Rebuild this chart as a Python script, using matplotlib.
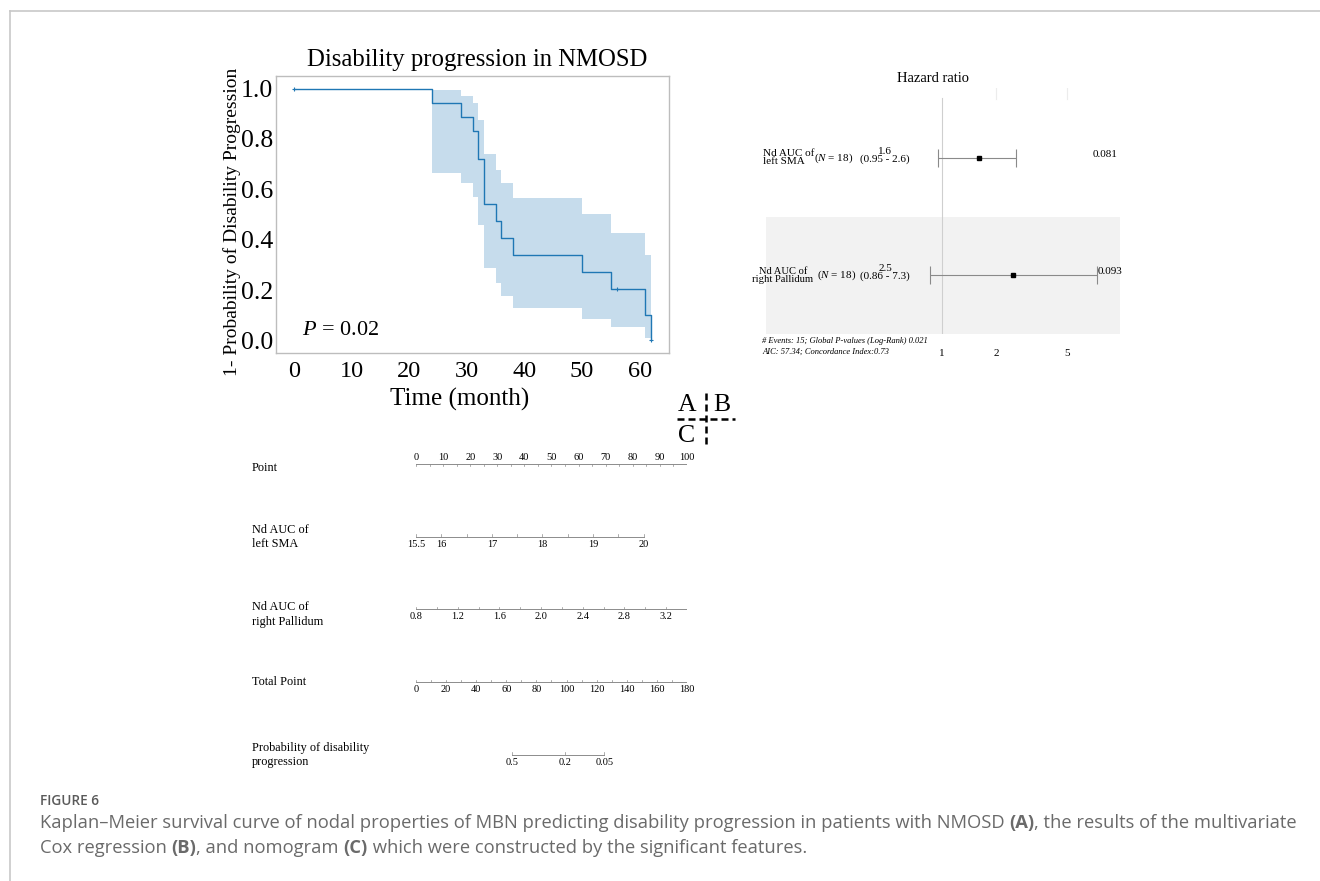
import matplotlib
matplotlib.use('Agg')
import matplotlib.pyplot as plt
import matplotlib.transforms as mtransforms
from matplotlib.lines import Line2D
import numpy as np

plt.rcParams['mathtext.fontset'] = 'custom'
plt.rcParams['mathtext.rm'] = 'Liberation Serif'
plt.rcParams['mathtext.it'] = 'Liberation Serif:italic'
plt.rcParams['mathtext.bf'] = 'Liberation Serif:bold'

SERIF = ['Liberation Serif', 'DejaVu Serif']
SANS = ['Open Sans', 'DejaVu Sans']

# ---------------- data ----------------
# (A) Kaplan-Meier curve
km_time = [0, 24, 29, 31, 32, 33, 35, 36, 38, 50, 55, 61, 62]
km_surv = [1.0, 0.944, 0.889, 0.833, 0.722, 0.542, 0.474, 0.406, 0.339, 0.271, 0.203, 0.102, 0.0]
km_upper = [1.0, 0.993, 0.971, 0.944, 0.875, 0.739, 0.677, 0.626, 0.564, 0.501, 0.428, 0.338, 0.338]
km_lower = [1.0, 0.666, 0.624, 0.570, 0.457, 0.287, 0.229, 0.176, 0.128, 0.086, 0.052, 0.008, 0.008]
km_censor_time = [0, 56, 62]
km_censor_surv = [1.0, 0.203, 0.0]
km_xticks = [0, 10, 20, 30, 40, 50, 60]
km_yticks = [0.0, 0.2, 0.4, 0.6, 0.8, 1.0]
km_title = "Disability progression in NMOSD"
km_xlabel = "Time (month)"
km_ylabel = "1- Probability of Disability Progression"
km_p_text = "$P$ = 0.02"

# (B) Cox forest plot
hr_vars = ["Nd AUC of\nleft SMA", "Nd AUC of\nright Pallidum"]
hr_n = [18, 18]
hr_est = [1.6, 2.5]
hr_low = [0.95, 0.86]
hr_high = [2.6, 7.3]
hr_p = ["0.081", "0.093"]
hr_ticks = [1, 2, 5]
hr_note = ["# Events: 15; Global P-values (Log-Rank) 0.021",
           "AIC: 57.34; Concordance Index:0.73"]

# (C) Nomogram
nomo_labels = ["Point", "Nd AUC of\nleft SMA", "Nd AUC of\nright Pallidum",
               "Total Point", "Probability of disability\nprogression"]
point_ticks = [0, 10, 20, 30, 40, 50, 60, 70, 80, 90, 100]
sma_range = (15.5, 20.0)
sma_points = (0.0, 84.0)
sma_ticks = [15.5, 16, 17, 18, 19, 20]
sma_minor = [15.5, 16, 16.5, 17, 17.5, 18, 18.5, 19, 19.5, 20]
pal_range = (0.8, 3.4)
pal_points = (0.0, 100.0)
pal_ticks = [0.8, 1.2, 1.6, 2.0, 2.4, 2.8, 3.2]
pal_minor = [0.8, 1.0, 1.2, 1.4, 1.6, 1.8, 2.0, 2.2, 2.4, 2.6, 2.8, 3.0, 3.2, 3.4]
total_max = 180
total_ticks = [0, 20, 40, 60, 80, 100, 120, 140, 160, 180]
prob_ticks = ["0.5", "0.2", "0.05"]
prob_total_points = [64, 99, 125]

caption_head = "FIGURE 6"
caption_line1 = [("Kaplan\u2013Meier survival curve of nodal properties of MBN predicting disability "
                  "progression in patients with NMOSD ", 'normal'), ("(A)", 'bold'),
                 (", the results of the multivariate", 'normal')]
caption_line2 = [("Cox regression ", 'normal'), ("(B)", 'bold'), (", and nomogram ", 'normal'),
                 ("(C)", 'bold'), (" which were constructed by the significant features.", 'normal')]

# ---------------- figure ----------------
W, H = 1320, 881
fig = plt.figure(figsize=(13.2, 8.81), dpi=100)


def rect(x0, y0, x1, y1):
    return [x0 / W, 1 - y1 / H, (x1 - x0) / W, (y1 - y0) / H]


def fx(x):
    return x / W


def fy(y):
    return 1 - y / H


# outer frame
fig.add_artist(Line2D([fx(10), 1], [fy(11), fy(11)], color='#c8c8c8', lw=1.2))
fig.add_artist(Line2D([fx(10), fx(10)], [fy(11), 0], color='#c8c8c8', lw=1.2))

# ---------------- (A) KM ----------------
ax = fig.add_axes(rect(276, 76, 669, 353))
blue = '#1f77b4'
ax.fill_between(km_time, km_lower, km_upper, step='post', color=blue, alpha=0.25, lw=0)
ax.step(km_time, km_surv, where='post', color=blue, lw=1.0)
ax.plot(km_censor_time, km_censor_surv, '+', color=blue, ms=3, mew=0.8)
ax.set_xlim(-3.1, 65.1)
ax.set_ylim(-0.05, 1.05)
ax.set_xticks(km_xticks)
ax.set_yticks(km_yticks)
ax.set_xticklabels([str(v) for v in km_xticks], family=SERIF, fontsize=17.5)
ax.set_yticklabels([f"{v:.1f}" for v in km_yticks], family=SERIF, fontsize=18.5)
ax.tick_params(axis='both', length=0)
ax.tick_params(axis='x', pad=6)
ax.tick_params(axis='y', pad=2)
for s in ax.spines.values():
    s.set_color('#bdbdbd')
    s.set_linewidth(1.0)
ax.text(0.066, 0.083, km_p_text, transform=ax.transAxes, family=SERIF,
        fontsize=16, va='center', ha='left')
fig.text(fx(477), fy(60), km_title, family=SERIF, fontsize=17.8, ha='center', va='center')
fig.text(fx(460), fy(399), km_xlabel, family=SERIF, fontsize=18, ha='center', va='center')
fig.text(fx(232), fy(222), km_ylabel, family=SERIF, fontsize=14, ha='center',
         va='center', rotation=90)

# ---------------- (B) forest ----------------
axf = fig.add_axes(rect(766, 88, 1120, 334))
axf.set_xscale('log')
axf.set_xlim(0.1045, 9.83)
axf.set_ylim(0.5, 2.594)
axf.axis('off')
axf.axhspan(0.5, 1.5, color='#f2f2f2', lw=0, zorder=0)
top_frac = 2.0 / 2.094
for t in hr_ticks[1:]:
    axf.axvline(t, ymin=top_frac, ymax=1, color='#ececec', lw=0.8, zorder=0)
axf.axvline(hr_ticks[0], ymin=-0.01, ymax=top_frac + 0.005, color='#cfcfcf', lw=0.8, zorder=1)
rows = [2, 1]
est = np.array(hr_est)
axf.errorbar(hr_est, rows, xerr=[est - np.array(hr_low), np.array(hr_high) - est],
             fmt='s', ms=2.5, color='black', ecolor='#8a8a8a', elinewidth=0.8,
             capsize=6.5, capthick=0.8, zorder=3)
bt = mtransforms.blended_transform_factory(fig.transFigure, axf.transData)
FS_F = 8
axf.text(fx(763), rows[0], hr_vars[0], transform=bt, family=SERIF, fontsize=FS_F,
         ha='left', va='center', linespacing=0.85)
axf.text(fx(783), rows[1], hr_vars[1], transform=bt, family=SERIF, fontsize=7.6,
         ha='center', va='center', multialignment='center', linespacing=0.85)
for r, n, xp in zip(rows, hr_n, [834, 837]):
    axf.text(fx(xp), r, f"($N$ = {n})", transform=bt, family=SERIF, fontsize=FS_F,
             ha='center', va='center')
for r, e, lo, hi in zip(rows, hr_est, hr_low, hr_high):
    axf.text(fx(885), r + 0.02, f"{e}\n({lo} - {hi})", transform=bt, family=SERIF,
             fontsize=FS_F, ha='center', va='center', multialignment='center',
             linespacing=0.8)
for r, p, xp in zip(rows, hr_p, [1093, 1098]):
    axf.text(fx(xp), r + 0.03, p, transform=bt, family=SERIF, fontsize=FS_F,
             ha='left', va='center')
fig.text(fx(933), fy(78), "Hazard ratio", family=SERIF, fontsize=10.5,
         ha='center', va='center')
fig.text(fx(762), fy(341), hr_note[0], family=SERIF, fontsize=6.1, style='italic',
         ha='left', va='center')
fig.text(fx(762), fy(352), hr_note[1], family=SERIF, fontsize=6.1, style='italic',
         ha='left', va='center')
bt2 = mtransforms.blended_transform_factory(axf.transData, fig.transFigure)
for t in hr_ticks:
    axf.text(t, fy(353), str(t), transform=bt2, family=SERIF, fontsize=FS_F,
             ha='center', va='center')

# ---------------- A|B / C marker ----------------
for lab, x, y in [("A", 687, 405), ("B", 722, 405), ("C", 687, 436)]:
    fig.text(fx(x), fy(y), lab, family=SERIF, fontsize=18.5, ha='center', va='center')
fig.add_artist(Line2D([fx(706), fx(706)], [fy(393), fy(447)], color='black',
                      lw=1.8, ls=(0, (2.8, 1.6))))
fig.add_artist(Line2D([fx(677), fx(735)], [fy(419), fy(419)], color='black',
                      lw=1.8, ls=(0, (2.8, 1.6))))

# ---------------- (C) nomogram ----------------
axn = fig.add_axes(rect(416, 445, 687, 780))
axn.set_xlim(0, 100)
axn.set_ylim(4.344, -0.261)
axn.axis('off')
gray = '#8c8c8c'
lab_t = mtransforms.blended_transform_factory(fig.transFigure, axn.transData)
label_dy = [0.06, 0.0, 0.07, 0.0, 0.0]
for i, (lab, dy) in enumerate(zip(nomo_labels, label_dy)):
    axn.text(fx(252), i + dy, lab, transform=lab_t, family=SERIF, fontsize=8.8,
             ha='left', va='center', linespacing=1.25)

up = mtransforms.offset_copy(axn.transData, fig=fig, y=2, units='dots')
down = mtransforms.offset_copy(axn.transData, fig=fig, y=-3, units='dots')


def axis_row(row, xs, minor_xs, labels, label_xs, above, tick_dir):
    axn.plot([min(xs), max(xs)], [row, row], color=gray, lw=0.7)
    tick_len = 2.5 / 72.75
    for m in minor_xs:
        y1 = row + (tick_len if tick_dir == 'down' else -tick_len)
        axn.plot([m, m], [row, y1], color=gray, lw=0.5)
    for lx, lab in zip(label_xs, labels):
        if above:
            axn.text(lx, row, lab, transform=up, family=SERIF, fontsize=7.5,
                     ha='center', va='bottom')
        else:
            axn.text(lx, row, lab, transform=down, family=SERIF, fontsize=7.5,
                     ha='center', va='top')


def sma_to_pts(v):
    return sma_points[0] + (v - sma_range[0]) / (sma_range[1] - sma_range[0]) * (sma_points[1] - sma_points[0])


def pal_to_pts(v):
    return pal_points[0] + (v - pal_range[0]) / (pal_range[1] - pal_range[0]) * (pal_points[1] - pal_points[0])


def tot(v):
    return v * 100.0 / total_max


axis_row(0, [0, 100], list(np.arange(0, 101, 5)), [str(v) for v in point_ticks],
         point_ticks, True, 'down')
axis_row(1, [sma_to_pts(v) for v in sma_range], [sma_to_pts(v) for v in sma_minor],
         [str(v) if v != int(v) else str(int(v)) for v in sma_ticks],
         [sma_to_pts(v) for v in sma_ticks], False, 'up')
axis_row(2, [pal_to_pts(v) for v in pal_range], [pal_to_pts(v) for v in pal_minor],
         [f"{v:.1f}" for v in pal_ticks], [pal_to_pts(v) for v in pal_ticks], False, 'up')
axis_row(3, [0, 100], [tot(v) for v in range(0, total_max + 1, 10)],
         [str(v) for v in total_ticks], [tot(v) for v in total_ticks], False, 'up')
axis_row(4, [tot(prob_total_points[0]), tot(prob_total_points[-1])],
         [tot(v) for v in prob_total_points], prob_ticks,
         [tot(v) for v in prob_total_points], False, 'up')

# ---------------- caption ----------------
cap_color = '#6a6a6a'
CAP_FS = 13.2
fig.text(fx(40), fy(801), caption_head, family=SANS, fontsize=9.8, weight='semibold',
         color='#5a5a5a', ha='left', va='center')

chain = []


def write_line(parts, y):
    first = True
    prev = None
    for txt, w in parts:
        t = fig.text(fx(40), fy(y), txt, family=SANS, fontsize=CAP_FS, weight=w,
                     color=cap_color, ha='left', va='baseline')
        if not first:
            chain.append((prev, t))
        first = False
        prev = t


write_line(caption_line1, 828)
write_line(caption_line2, 853)

fig.canvas.draw()
renderer = fig.canvas.get_renderer()
for ref, t in chain:
    bb = ref.get_window_extent(renderer)
    t.set_x(bb.x1 / fig.bbox.width)
    fig.canvas.draw()

fig.savefig('out.png', dpi=100)
